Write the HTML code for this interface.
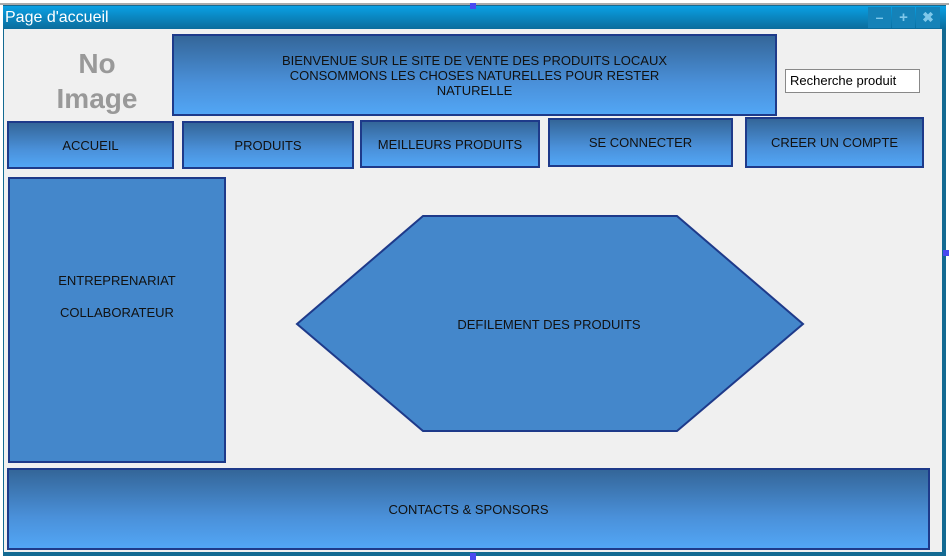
<!DOCTYPE html>
<html><head><meta charset="utf-8"><style>
*{margin:0;padding:0;box-sizing:border-box}
body{width:949px;height:560px;background:#fff;position:relative;overflow:hidden;font-family:"Liberation Sans",sans-serif}
.a{position:absolute}
.btn{position:absolute;border:2px solid #1e3a8a;background:linear-gradient(#346699,#4a90d9 60%,#52a6f5);display:flex;align-items:center;justify-content:center;text-align:center;font-size:13px;color:#111;line-height:15px}
</style></head><body>
<div class="a" style="left:0;top:3px;width:949px;height:2px;background:#aaa"></div>
<div class="a" style="left:3px;top:5px;width:943px;height:551px;background:#136a92"></div>
<div class="a" style="left:3px;top:6px;width:943px;height:23px;background:linear-gradient(#0aa0e4,#0b6c9c)"></div>
<div class="a" style="left:5px;top:7px;color:#fff;font-size:16px;line-height:22px">Page d'accueil</div>
<div class="a" style="left:868px;top:7px;width:23px;height:21px;background:#1582b8;color:#7fc8ea;font-size:14px;text-align:center;line-height:21px;font-weight:bold">–</div>
<div class="a" style="left:892px;top:7px;width:23px;height:21px;background:#1582b8;color:#7fc8ea;font-size:15px;text-align:center;line-height:21px;font-weight:bold">+</div>
<div class="a" style="left:916px;top:7px;width:24px;height:21px;background:#1582b8;color:#7fc8ea;font-size:14px;text-align:center;line-height:21px;font-weight:bold">✖</div>
<div class="a" style="left:4px;top:29px;width:938px;height:523px;background:#f0f0f0"></div>
<div class="a" style="left:470px;top:3px;width:6px;height:6px;background:#4a4af0"></div>
<div class="a" style="left:470px;top:553px;width:6px;height:7px;background:#4a4af0"></div>
<div class="a" style="left:943px;top:250px;width:6px;height:6px;background:#4a4af0"></div>
<div class="a" style="left:47px;top:46px;width:100px;text-align:center;color:#999;font-size:28px;line-height:35px;font-weight:bold">No<br>Image</div>
<div class="btn" style="left:172px;top:34px;width:605px;height:82px;font-size:13px">BIENVENUE SUR LE SITE DE VENTE DES PRODUITS LOCAUX<br>CONSOMMONS LES CHOSES NATURELLES POUR RESTER<br>NATURELLE</div>
<div class="a" style="left:785px;top:69px;width:135px;height:24px;background:#fff;border:1px solid #888;font-size:13px;line-height:22px;padding-left:4px;color:#000">Recherche produit</div>
<div class="btn" style="left:7px;top:121px;width:167px;height:48px;padding-top:1px">ACCUEIL</div>
<div class="btn" style="left:182px;top:121px;width:172px;height:48px;padding-top:1px">PRODUITS</div>
<div class="btn" style="left:360px;top:120px;width:180px;height:48px;padding-top:0">MEILLEURS PRODUITS</div>
<div class="btn" style="left:548px;top:118px;width:185px;height:49px">SE CONNECTER</div>
<div class="btn" style="left:745px;top:117px;width:179px;height:51px">CREER UN COMPTE</div>
<div class="a" style="left:8px;top:177px;width:218px;height:286px;background:#4487cb;border:2px solid #1e3a8a;font-size:13px;color:#111;text-align:center;line-height:32px;padding-top:86px">ENTREPRENARIAT<br>COLLABORATEUR</div>
<svg class="a" style="left:0;top:0" width="949" height="560">
<polygon points="423,216 677,216 803,324 677,431 423,431 297,324" fill="#4487cb" stroke="#1e3a8a" stroke-width="2"/>
<text x="549" y="329" font-family="Liberation Sans" font-size="13" text-anchor="middle" fill="#111">DEFILEMENT DES PRODUITS</text>
</svg>
<div class="btn" style="left:7px;top:468px;width:923px;height:82px">CONTACTS &amp; SPONSORS</div>
</body></html>
